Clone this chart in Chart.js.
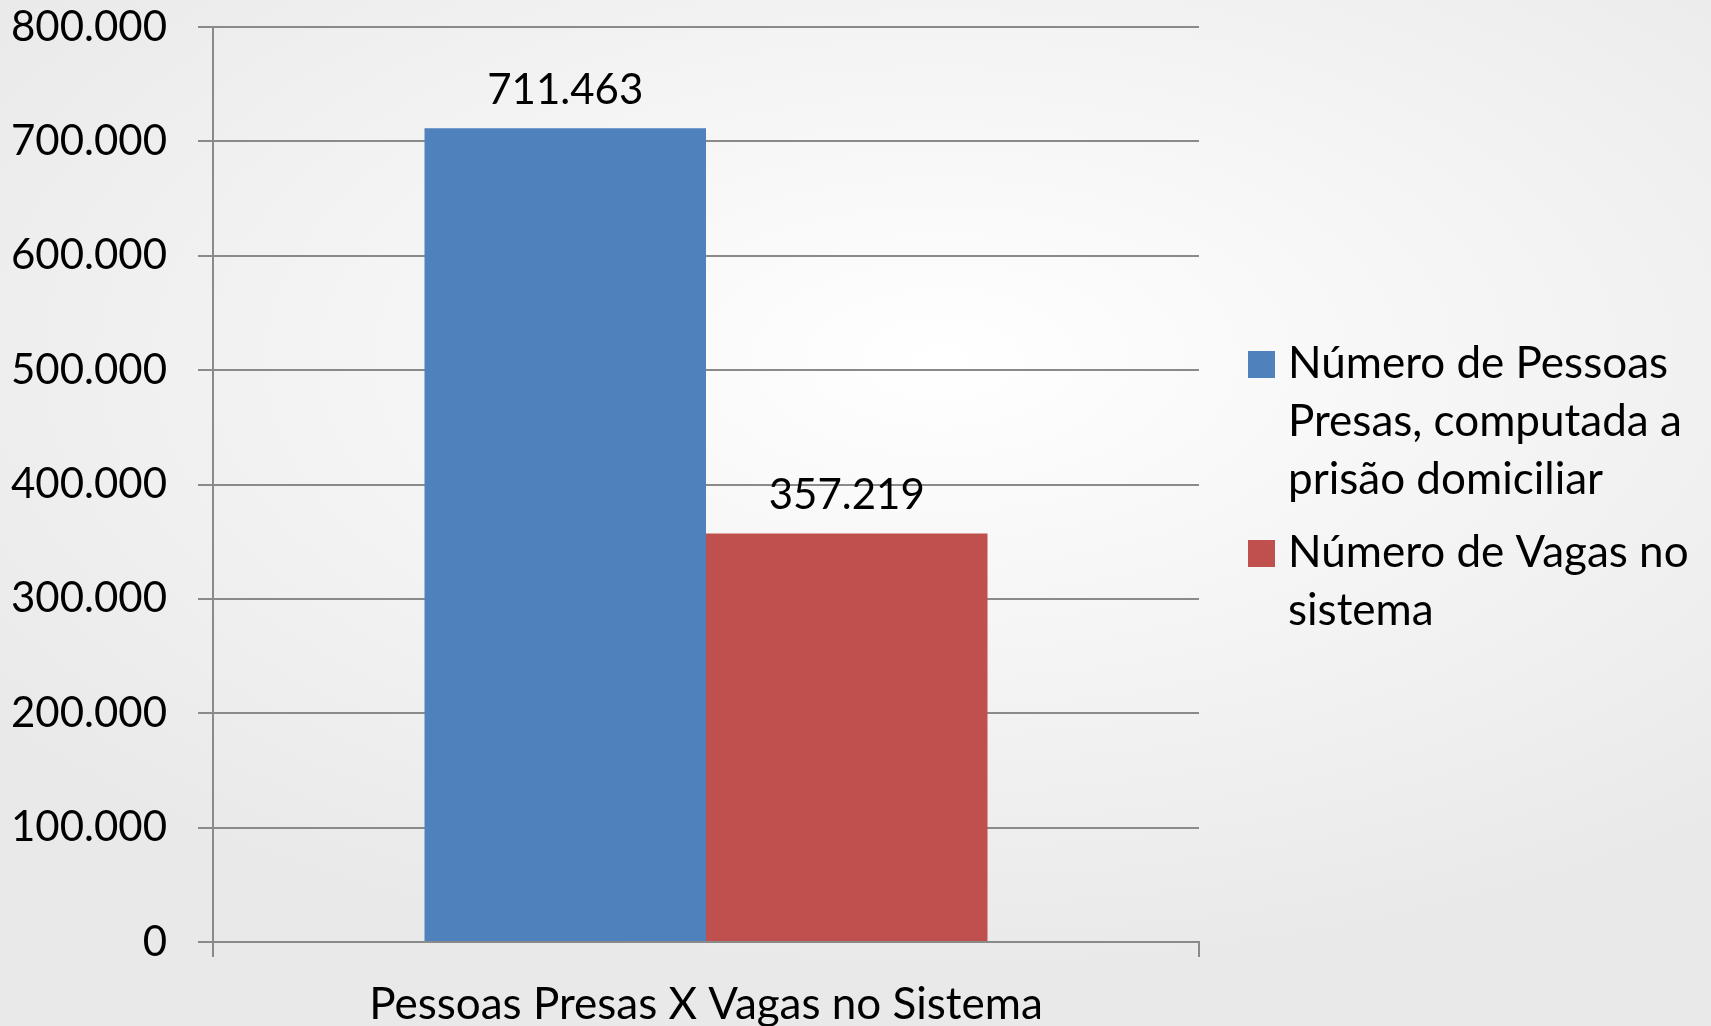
<!DOCTYPE html>
<html>
<head>
<meta charset="utf-8">
<script src="https://cdn.jsdelivr.net/npm/chart.js@4"></script>
<style>
  html, body { margin: 0; padding: 0; }
  body {
    width: 1711px; height: 1026px; overflow: hidden;
    background: radial-gradient(ellipse 70% 60% at 55% 35%, #ffffff 0%, #f5f5f5 45%, #e9e9e9 100%);
  }
  #wrap { position: absolute; left: 0; top: 0; width: 1711px; height: 1026px; }
</style>
</head>
<body>
<div id="wrap"><canvas id="chart"></canvas></div>
<script>
// chart data
const categories = ['Pessoas Presas X Vagas no Sistema'];
const seriesNames = [
  ['Número de Pessoas', 'Presas, computada a', 'prisão domiciliar'],
  ['Número de Vagas no', 'sistema']
];
const presos = [711463];
const vagas = [357219];
const seriesColors = ['#4F81BD', '#C0504D'];
const yTicks = [0, 100000, 200000, 300000, 400000, 500000, 600000, 700000, 800000];

const FONT = 'Lato, "Open Sans", sans-serif';
const GRID = '#8a8a8a';

function fmt(v){
  return String(v).replace(/\B(?=(\d{3})+(?!\d))/g, '.');
}

// value labels above each bar
const valueLabels = {
  id: 'valueLabels',
  afterDatasetsDraw(chart){
    const ctx = chart.ctx;
    ctx.save();
    ctx.font = '42px ' + FONT;
    ctx.fillStyle = '#000';
    ctx.textAlign = 'center';
    ctx.textBaseline = 'alphabetic';
    chart.data.datasets.forEach((ds, i) => {
      chart.getDatasetMeta(i).data.forEach((el, j) => {
        ctx.fillText(fmt(ds.data[j]), el.x, el.y - 24);
      });
    });
    ctx.restore();
  }
};

// legend on the right, with wrapped lines
const sideLegend = {
  id: 'sideLegend',
  afterDraw(chart){
    const ctx = chart.ctx;
    ctx.save();
    ctx.font = '44px ' + FONT;
    ctx.textAlign = 'left';
    ctx.textBaseline = 'alphabetic';
    const firstBase = [378, 567];
    seriesNames.forEach((lines, i) => {
      const b = firstBase[i];
      ctx.fillStyle = seriesColors[i];
      ctx.fillRect(1248, b - 27, 27, 27);
      ctx.fillStyle = '#000';
      lines.forEach((t, k) => ctx.fillText(t, 1288, b + k * 58));
    });
    ctx.restore();
  }
};

new Chart(document.getElementById('chart'), {
  type: 'bar',
  data: {
    labels: categories,
    datasets: [
      { label: seriesNames[0].join(' '), data: presos, backgroundColor: seriesColors[0] },
      { label: seriesNames[1].join(' '), data: vagas, backgroundColor: seriesColors[1] }
    ]
  },
  options: {
    responsive: true,
    maintainAspectRatio: false,
    animation: false,
    categoryPercentage: 0.571,
    barPercentage: 1,
    layout: { padding: { left: 0, top: 0, right: 512, bottom: 0 } },
    plugins: {
      legend: { display: false },
      tooltip: { enabled: false }
    },
    scales: {
      y: {
        min: 0, max: 800000,
        afterBuildTicks(scale){ scale.ticks = yTicks.map(v => ({ value: v })); },
        afterFit(scale){
          scale.width = 213;
          scale.paddingTop = 27;
          scale.paddingBottom = 0;
        },
        ticks: {
          color: '#000',
          font: { family: FONT, size: 42 },
          padding: 31,
          callback: v => fmt(v)
        },
        grid: { color: GRID, lineWidth: 2, tickLength: 15 },
        border: { color: GRID, width: 2 }
      },
      x: {
        afterFit(scale){ scale.height = 84; },
        ticks: {
          color: '#000',
          font: { family: FONT, size: 44 },
          padding: 21
        },
        grid: { offset: true, drawOnChartArea: false, color: GRID, lineWidth: 2, tickLength: 15 },
        border: { color: GRID, width: 2 }
      }
    }
  },
  plugins: [valueLabels, sideLegend]
});
</script>
</body>
</html>
